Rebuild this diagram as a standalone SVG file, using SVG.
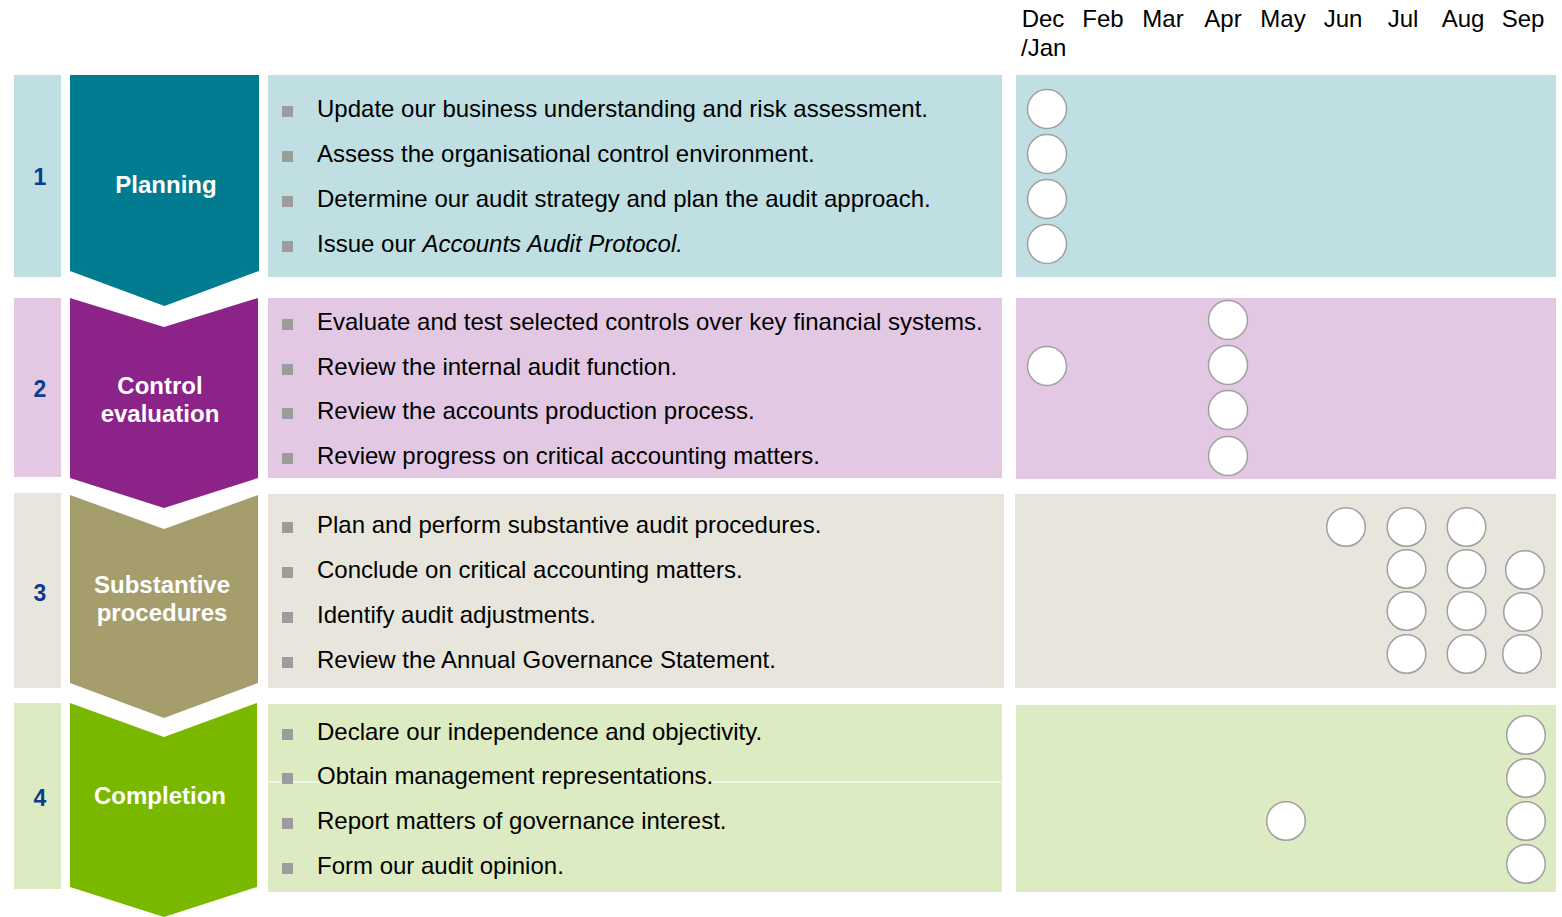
<svg xmlns="http://www.w3.org/2000/svg" width="1562" height="917" viewBox="0 0 1562 917">
<style>
text{font-family:"Liberation Sans",Arial,sans-serif}
.num{font-size:23px;font-weight:bold;fill:#0d3b8e;text-anchor:middle}
.lbl{font-size:24px;font-weight:bold;fill:#ffffff;text-anchor:middle}
.item{font-size:24px;fill:#000000}
.mon{font-size:24px;fill:#000000}
.b{fill:#9c9c9c}
.c{fill:#ffffff;stroke:#a0a0a0;stroke-width:1.5}
</style>
<rect width="1562" height="917" fill="#ffffff"/>
<g id="header">
<text class="mon" x="1043" y="27" text-anchor="middle">Dec</text>
<text class="mon" x="1021" y="56">/Jan</text>
<text class="mon" x="1103" y="27" text-anchor="middle">Feb</text>
<text class="mon" x="1163" y="27" text-anchor="middle">Mar</text>
<text class="mon" x="1223" y="27" text-anchor="middle">Apr</text>
<text class="mon" x="1283" y="27" text-anchor="middle">May</text>
<text class="mon" x="1343" y="27" text-anchor="middle">Jun</text>
<text class="mon" x="1403" y="27" text-anchor="middle">Jul</text>
<text class="mon" x="1463" y="27" text-anchor="middle">Aug</text>
<text class="mon" x="1523" y="27" text-anchor="middle">Sep</text>
</g>
<g id="stage1">
<rect x="14" y="75" width="47" height="202" fill="#bfdfe3"/>
<text class="num" x="40" y="185">1</text>
<polygon points="70,75 259,75 259,271 164.5,306 70,271" fill="#007b8f"/>
<text class="lbl" x="166" y="193">Planning</text>
<rect x="268" y="75" width="734" height="202" fill="#bfdfe3"/>
<rect class="b" x="282" y="106" width="11" height="11"/>
<rect class="b" x="282" y="151" width="11" height="11"/>
<rect class="b" x="282" y="196" width="11" height="11"/>
<rect class="b" x="282" y="241" width="11" height="11"/>
<text class="item" x="317" y="117">Update our business understanding and risk assessment.</text>
<text class="item" x="317" y="162">Assess the organisational control environment.</text>
<text class="item" x="317" y="207">Determine our audit strategy and plan the audit approach.</text>
<text class="item" x="317" y="252">Issue our <tspan font-style="italic">Accounts Audit Protocol.</tspan></text>
<rect x="1016" y="75" width="540" height="202" fill="#bfdfe3"/>
<circle class="c" cx="1047" cy="109" r="19.5"/>
<circle class="c" cx="1047" cy="154" r="19.5"/>
<circle class="c" cx="1047" cy="199" r="19.5"/>
<circle class="c" cx="1047" cy="244" r="19.5"/>
</g>
<g id="stage2">
<rect x="14" y="298" width="47" height="179" fill="#e3c8e3"/>
<text class="num" x="40" y="397">2</text>
<polygon points="70,298 164,327 258,298 258,478 164,508 70,478" fill="#8b2388"/>
<text class="lbl" x="160" y="394">Control</text>
<text class="lbl" x="160" y="422">evaluation</text>
<rect x="268" y="298" width="734" height="180" fill="#e3c8e3"/>
<rect class="b" x="282" y="319" width="11" height="11"/>
<rect class="b" x="282" y="364" width="11" height="11"/>
<rect class="b" x="282" y="408" width="11" height="11"/>
<rect class="b" x="282" y="453" width="11" height="11"/>
<text class="item" x="317" y="330">Evaluate and test selected controls over key financial systems.</text>
<text class="item" x="317" y="375">Review the internal audit function.</text>
<text class="item" x="317" y="419">Review the accounts production process.</text>
<text class="item" x="317" y="464">Review progress on critical accounting matters.</text>
<rect x="1016" y="298" width="540" height="181" fill="#e3c8e3"/>
<circle class="c" cx="1047" cy="366" r="19.5"/>
<circle class="c" cx="1228" cy="320" r="19.5"/>
<circle class="c" cx="1228" cy="365" r="19.5"/>
<circle class="c" cx="1228" cy="410" r="19.5"/>
<circle class="c" cx="1228" cy="456" r="19.5"/>
</g>
<g id="stage3">
<rect x="14" y="493" width="47" height="195" fill="#e8e6dc"/>
<text class="num" x="40" y="601">3</text>
<polygon points="70,495 164,529 258,495 258,683 164,718 70,683" fill="#a69d6d"/>
<text class="lbl" x="162" y="593">Substantive</text>
<text class="lbl" x="162" y="621">procedures</text>
<rect x="268" y="494" width="736" height="194" fill="#e8e6dc"/>
<rect class="b" x="282" y="522" width="11" height="11"/>
<rect class="b" x="282" y="567" width="11" height="11"/>
<rect class="b" x="282" y="612" width="11" height="11"/>
<rect class="b" x="282" y="657" width="11" height="11"/>
<text class="item" x="317" y="533">Plan and perform substantive audit procedures.</text>
<text class="item" x="317" y="578">Conclude on critical accounting matters.</text>
<text class="item" x="317" y="623">Identify audit adjustments.</text>
<text class="item" x="317" y="668">Review the Annual Governance Statement.</text>
<rect x="1015" y="494" width="541" height="194" fill="#e8e6dc"/>
<circle class="c" cx="1346" cy="527" r="19.3"/>
<circle class="c" cx="1406.5" cy="527" r="19.3"/>
<circle class="c" cx="1466.5" cy="527" r="19.3"/>
<circle class="c" cx="1406.5" cy="569" r="19.3"/>
<circle class="c" cx="1466.5" cy="569" r="19.3"/>
<circle class="c" cx="1525" cy="570" r="19.3"/>
<circle class="c" cx="1406.5" cy="611" r="19.3"/>
<circle class="c" cx="1466.5" cy="611" r="19.3"/>
<circle class="c" cx="1523" cy="612" r="19.3"/>
<circle class="c" cx="1406.5" cy="654" r="19.3"/>
<circle class="c" cx="1466.5" cy="654" r="19.3"/>
<circle class="c" cx="1522" cy="654" r="19.3"/>
</g>
<g id="stage4">
<rect x="14" y="703" width="47" height="186" fill="#ddebc2"/>
<text class="num" x="40" y="806">4</text>
<polygon points="70,703 164,737 257,703 257,887 164,917 70,887" fill="#7ab800"/>
<text class="lbl" x="160" y="804">Completion</text>
<rect x="268" y="704" width="734" height="188" fill="#ddebc2"/>
<line x1="268" y1="782" x2="1002" y2="782" stroke="#ffffff" stroke-width="1"/>
<rect class="b" x="282" y="729" width="11" height="11"/>
<rect class="b" x="282" y="773" width="11" height="11"/>
<rect class="b" x="282" y="818" width="11" height="11"/>
<rect class="b" x="282" y="863" width="11" height="11"/>
<text class="item" x="317" y="740">Declare our independence and objectivity.</text>
<text class="item" x="317" y="784">Obtain management representations.</text>
<text class="item" x="317" y="829">Report matters of governance interest.</text>
<text class="item" x="317" y="874">Form our audit opinion.</text>
<rect x="1016" y="705" width="540" height="187" fill="#ddebc2"/>
<circle class="c" cx="1526" cy="735" r="19.3"/>
<circle class="c" cx="1526" cy="778" r="19.3"/>
<circle class="c" cx="1526" cy="821" r="19.3"/>
<circle class="c" cx="1526" cy="864" r="19.3"/>
<circle class="c" cx="1286" cy="821" r="19.3"/>
</g>
<g id="connectors"></g>
</svg>
